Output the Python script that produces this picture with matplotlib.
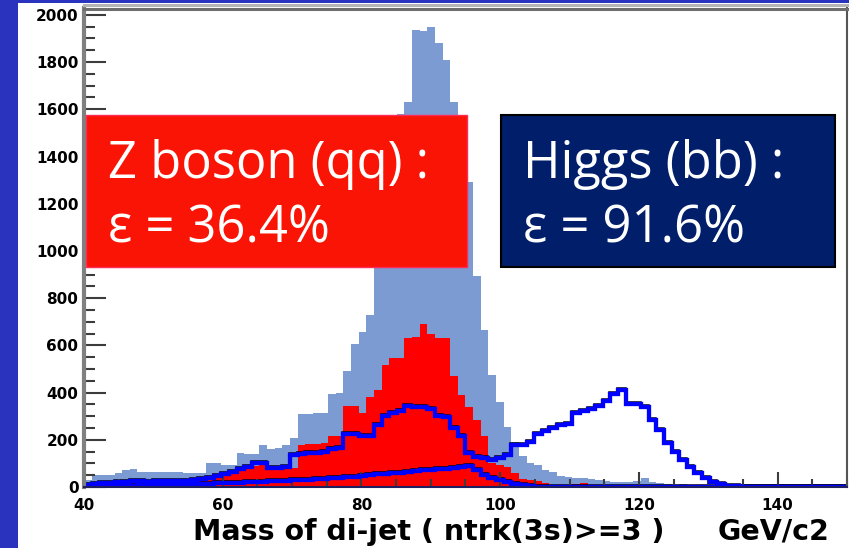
import numpy as np
import matplotlib
matplotlib.use("Agg")
import matplotlib.pyplot as plt
from matplotlib.patches import Rectangle
from matplotlib.lines import Line2D
from matplotlib import transforms

# ---- histogram binning (GeV/c2) ----
mass_lo, mass_hi, n_bins = 40.0, 150.0, 100
edges = np.linspace(mass_lo, mass_hi, n_bins + 1)

# all di-jet events before the b-tag cut
all_events = [
    30, 50, 52, 50, 58, 70, 78, 65, 63, 63,
    65, 62, 62, 60, 58, 60, 100, 100, 92, 92,
    146, 138, 140, 180, 163, 165, 180, 209, 310, 310,
    312, 314, 393, 400, 490, 606, 657, 728, 950, 1120,
    1320, 1580, 1630, 1935, 1930, 1950, 1880, 1810, 1630, 1450,
    1290, 895, 665, 475, 360, 255, 192, 130, 102, 92,
    73, 62, 46, 42, 40, 38, 32, 30, 25, 20,
    22, 20, 26, 38, 22, 15, 12, 10, 12, 8,
    8, 6, 7, 5, 6, 4, 5, 3, 4, 3,
    3, 2, 3, 2, 2, 2, 1, 2, 1, 1,
]

# Z -> qq after ntrk(3s)>=3
z_qq = [
    5, 8, 10, 12, 15, 20, 25, 28, 25, 28,
    28, 30, 30, 32, 30, 35, 42, 42, 50, 60,
    79, 80, 90, 105, 84, 80, 80, 79, 176, 184,
    184, 186, 218, 218, 345, 345, 312, 380, 410, 515,
    545, 545, 630, 635, 690, 650, 630, 630, 470, 390,
    340, 282, 215, 100, 95, 85, 60, 35, 30, 25,
    15, 10, 8, 6, 12, 18, 10, 6, 5, 4,
    4, 3, 4, 3, 2, 2, 2, 1, 1, 1,
    1, 1, 1, 0, 1, 0, 0, 0, 0, 0,
    0, 0, 0, 0, 0, 0, 0, 0, 0, 0,
]

# b-tagged sample including Higgs -> bb
higgs_bb = [
    10, 12, 15, 18, 20, 22, 25, 25, 22, 24,
    25, 26, 25, 26, 28, 35, 40, 48, 55, 65,
    75, 84, 100, 100, 79, 79, 85, 134, 140, 142,
    145, 150, 159, 165, 226, 226, 218, 218, 262, 300,
    312, 320, 345, 338, 338, 332, 300, 295, 250, 215,
    144, 128, 122, 116, 122, 134, 176, 178, 192, 226,
    236, 248, 262, 268, 315, 322, 330, 342, 366, 396,
    412, 352, 350, 340, 282, 240, 186, 148, 114, 85,
    60, 38, 20, 12, 6, 3, 2, 2, 1, 1,
    1, 0, 1, 0, 0, 0, 0, 0, 0, 0,
]

# Z -> bb component
z_bb = [
    2, 3, 3, 4, 5, 5, 6, 7, 6, 8,
    8, 9, 10, 10, 12, 12, 14, 15, 15, 17,
    18, 20, 20, 22, 24, 25, 27, 28, 30, 30,
    32, 34, 38, 40, 42, 44, 47, 50, 54, 56,
    58, 60, 63, 66, 70, 72, 76, 78, 82, 86,
    88, 72, 50, 40, 30, 21, 12, 8, 4, 2,
    1, 1, 1, 0, 0, 0, 0, 0, 0, 0,
    0, 0, 0, 0, 0, 0, 0, 0, 0, 0,
    0, 0, 0, 0, 0, 0, 0, 0, 0, 0,
    0, 0, 0, 0, 0, 0, 0, 0, 0, 0,
]

x_ticks = [40, 60, 80, 100, 120, 140]
y_ticks = list(range(0, 2001, 200))

W, H = 849, 548
fig = plt.figure(figsize=(W / 100, H / 100), dpi=100, facecolor="#2a33bd")


def fx(x):
    return x / W


def fy(y):
    return 1 - y / H


# white slide panel carrying the plot
fig.add_artist(Rectangle((fx(18), 0), 1 - fx(18), fy(3), transform=fig.transFigure,
                         facecolor="white", edgecolor="none", zorder=-5))

ax = fig.add_axes([fx(84), fy(487), fx(847) - fx(84), fy(8.5) - fy(487)])
ax.set_facecolor("white")
ax.set_xlim(mass_lo, mass_hi)
ax.set_ylim(0, 2027)

ax.stairs(all_events, edges, fill=True, color="#7b9bd2", zorder=1)
ax.stairs(z_qq, edges, fill=True, color="#ff0000", zorder=1.2)

shadow = transforms.offset_copy(ax.transData, fig=fig, x=-1, y=2, units="dots")
for series in (higgs_bb, z_bb):
    ax.stairs(series, edges, fill=False, color="black", linewidth=1.8,
              transform=shadow, zorder=1.5)
    ax.stairs(series, edges, fill=False, color="#0000ff", linewidth=3.1, zorder=1.6)

ax.set_xticks(x_ticks)
ax.set_xticks(np.arange(40, 151, 5), minor=True)
ax.set_yticks(y_ticks)
ax.set_yticks(np.arange(0, 2001, 50), minor=True)
ax.set_xticklabels([str(v) for v in x_ticks])
ax.set_yticklabels([str(v) for v in y_ticks])

ax.tick_params(axis="y", which="major", direction="in", length=16, width=1.5,
               color="#3c3c3c", pad=4)
ax.tick_params(axis="y", which="minor", direction="in", length=8, width=1.5,
               color="#3c3c3c")
ax.tick_params(axis="x", which="major", direction="in", length=11, width=1.5,
               color="#3c3c3c", pad=8)
ax.tick_params(axis="x", which="minor", direction="in", length=6, width=1.5,
               color="#3c3c3c")
for lab in ax.get_xticklabels() + ax.get_yticklabels():
    lab.set_fontfamily("DejaVu Sans")
    lab.set_fontweight("bold")
    lab.set_fontsize(11)

ax.spines["left"].set_color("#808080")
ax.spines["left"].set_linewidth(3.0)
ax.spines["top"].set_color("#6e6e6e")
ax.spines["top"].set_linewidth(2.2)
ax.spines["right"].set_color("#555555")
ax.spines["right"].set_linewidth(1.5)
ax.spines["bottom"].set_color("#202060")
ax.spines["bottom"].set_linewidth(1.5)

# light upper edge of the frame
fig.add_artist(Line2D([fx(84), 1], [fy(5), fy(5)], transform=fig.transFigure,
                      color="#b4b4b4", linewidth=2.2))

# axis title
title_font = dict(family="DejaVu Sans", fontweight="bold", fontsize=20.5,
                  color="black", va="baseline", ha="left")
fig.text(fx(193), fy(540), "Mass of di-jet ( ntrk(3s)>=3 )", **title_font)
fig.text(fx(718), fy(540), "GeV/c2", **title_font)

# efficiency boxes
box_font = dict(family=["Open Sans", "DejaVu Sans"], fontsize=36.5, color="white",
                va="baseline", ha="left", zorder=11)
fig.add_artist(Rectangle((fx(86), fy(267)), fx(467) - fx(86), fy(115) - fy(267),
                         transform=fig.transFigure, facecolor="#fa1405",
                         edgecolor="#ff2a55", linewidth=1.0, zorder=10))
fig.text(fx(108), fy(178), "Z boson (qq) :", **box_font)
fig.text(fx(108), fy(243), "\u03b5 = 36.4%", **box_font)

fig.add_artist(Rectangle((fx(501), fy(267)), fx(835) - fx(501), fy(115) - fy(267),
                         transform=fig.transFigure, facecolor="#001e69",
                         edgecolor="black", linewidth=1.5, zorder=10))
fig.text(fx(523), fy(178), "Higgs (bb) :", **box_font)
fig.text(fx(523), fy(242), "\u03b5 = 91.6%", **box_font)

fig.savefig("out.png", dpi=100, facecolor=fig.get_facecolor())
